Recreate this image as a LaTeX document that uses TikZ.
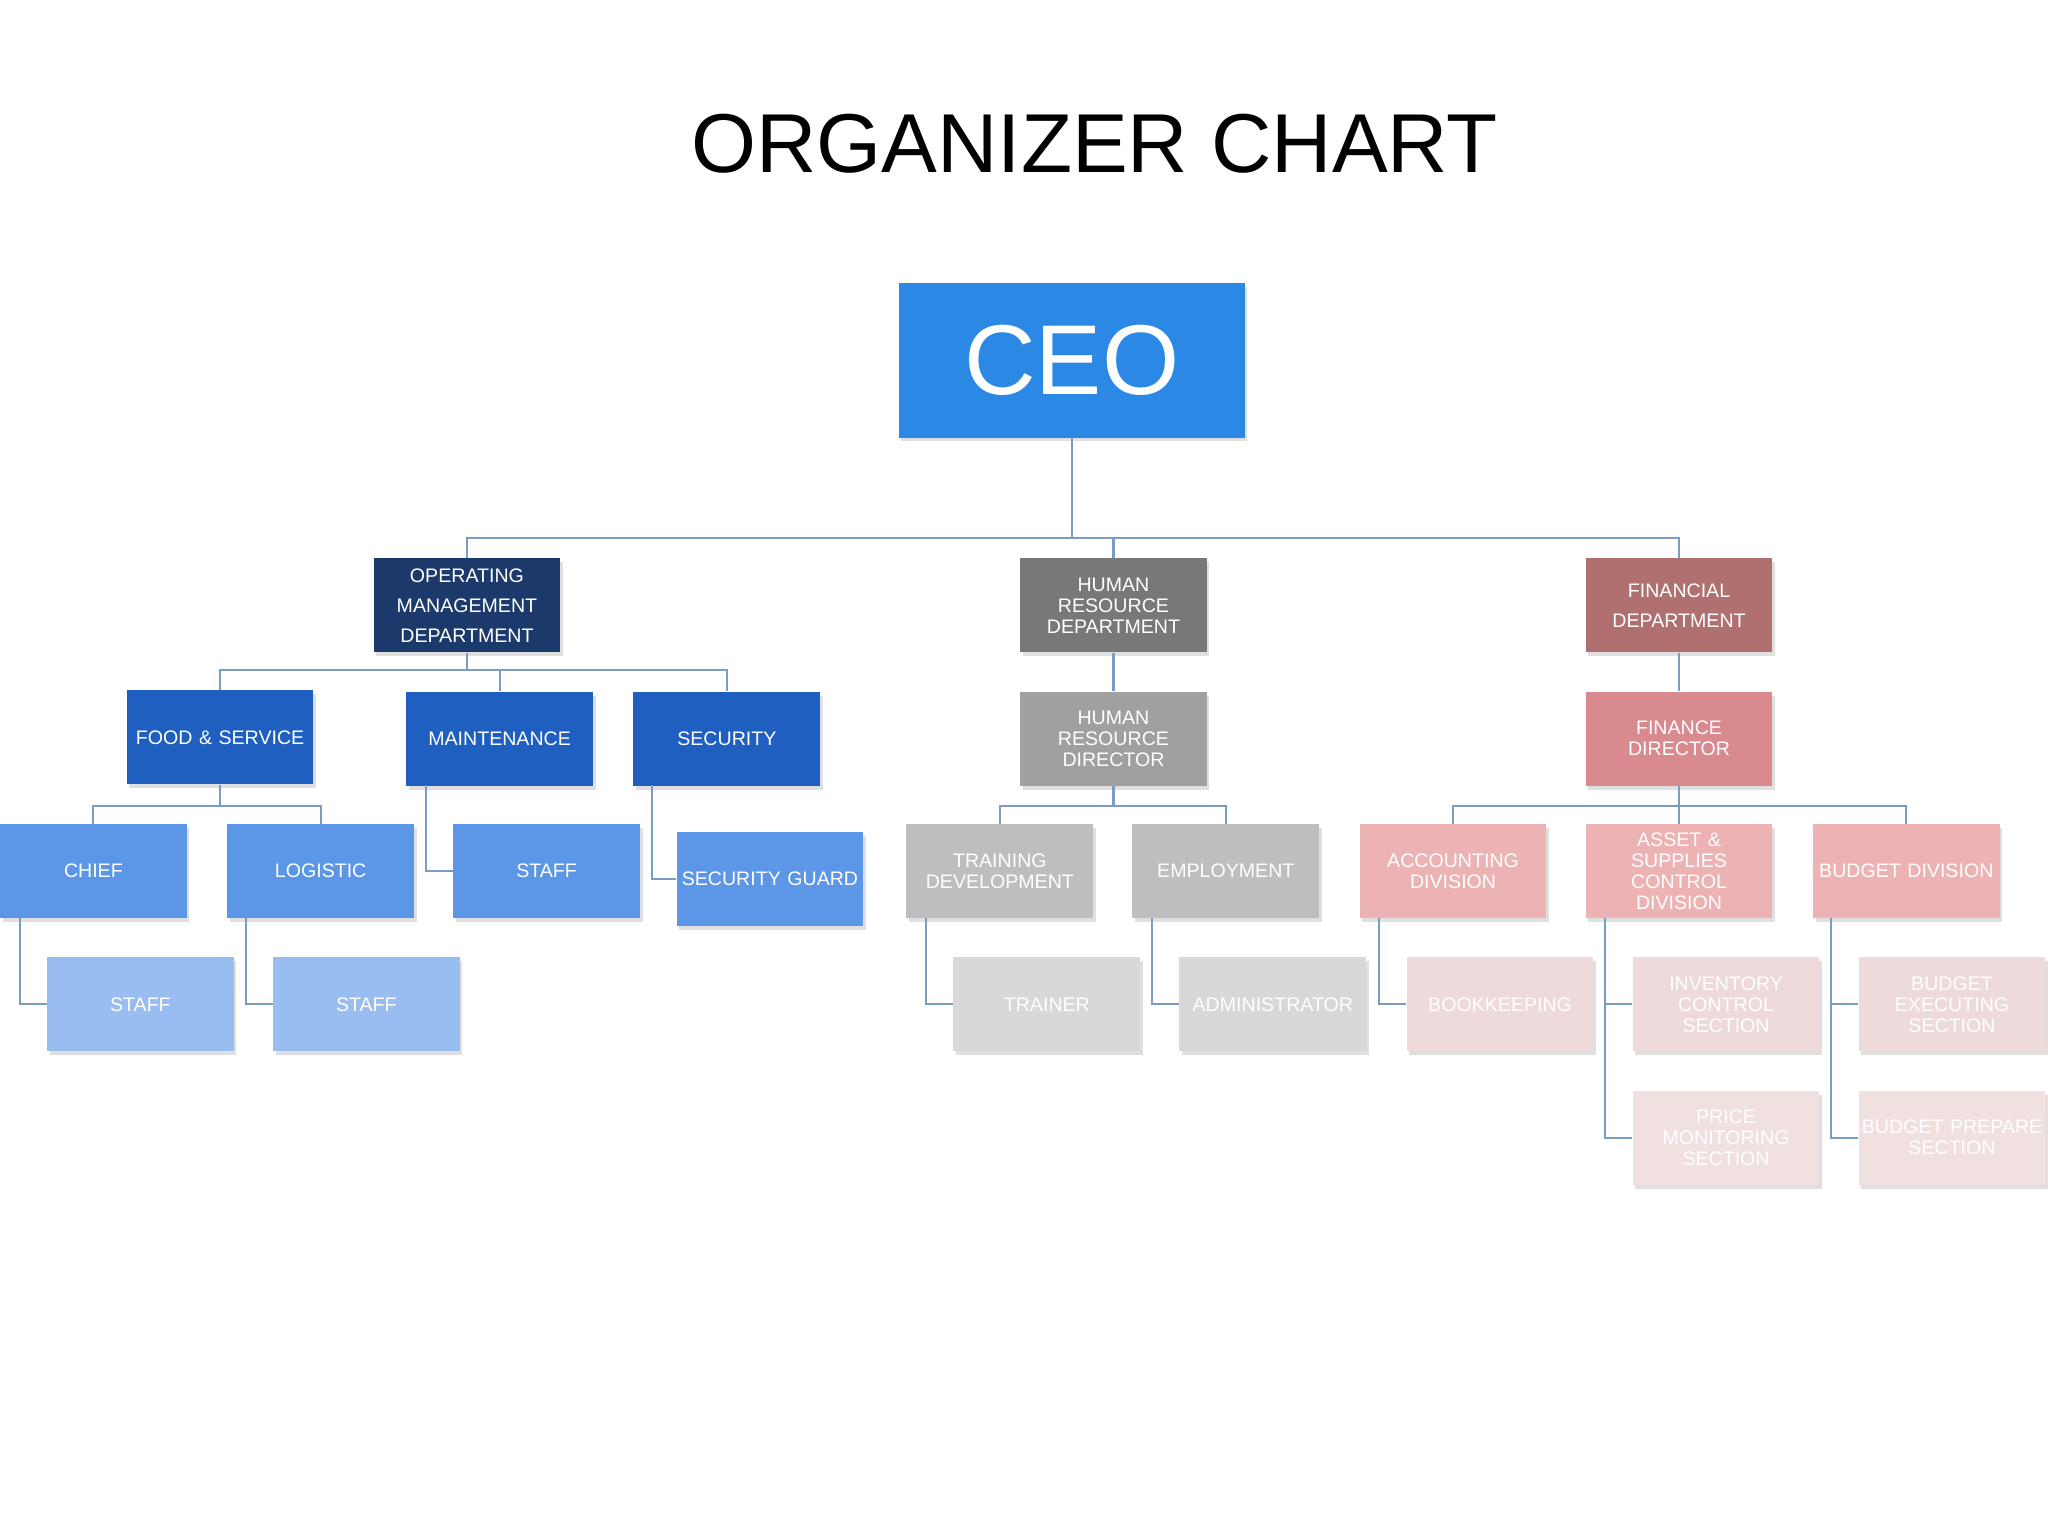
\documentclass[tikz,border=0pt]{standalone}
\usepackage{fontspec}
\setmainfont{Liberation Sans}
\usetikzlibrary{shadows}
\definecolor{ceoc}{RGB}{43,137,229}
\definecolor{navy}{RGB}{27,58,107}
\definecolor{blueA}{RGB}{31,95,192}
\definecolor{blueB}{RGB}{91,151,230}
\definecolor{blueC}{RGB}{152,189,240}
\definecolor{grayA}{RGB}{120,120,120}
\definecolor{grayB}{RGB}{160,160,160}
\definecolor{grayC}{RGB}{190,190,190}
\definecolor{grayD}{RGB}{216,216,216}
\definecolor{redA}{RGB}{176,112,112}
\definecolor{redB}{RGB}{217,138,142}
\definecolor{redC}{RGB}{237,179,180}
\definecolor{redD}{RGB}{238,218,218}
\definecolor{redE}{RGB}{240,224,224}
\definecolor{linec}{RGB}{122,156,192}
\tikzset{
 x=1pt,y=-1pt,
 bx/.style={draw=none,minimum width=143pt,minimum height=72pt,text width=140pt,align=center,text=white,font=\fontsize{15}{16}\selectfont,inner sep=1pt,drop shadow={opacity=0.25,shadow xshift=2pt,shadow yshift=-3pt}},
 ln/.style={draw=linec,line width=1.6pt},
}
\begin{document}
\begin{tikzpicture}
\useasboundingbox (0,0) rectangle (1568,1176);
\fill[white] (0,0) rectangle (1568,1176);
\node (title) at (838,110) {\fontsize{64}{70}\selectfont ORGANIZER CHART};
\node[bx,fill=ceoc,minimum width=265pt,minimum height=118pt,text width=260pt,font=\fontsize{76}{80}\selectfont] (ceo) at (820.5,276) {CEO};
\node[bx,fill=navy,font=\fontsize{15}{23}\selectfont] (omd) at (357.5,463.5) {OPERATING\\MANAGEMENT\\DEPARTMENT};
\node[bx,fill=grayA] (hrd) at (852.5,463.5) {HUMAN\\RESOURCE\\DEPARTMENT};
\node[bx,fill=redA,font=\fontsize{15}{23}\selectfont] (fd) at (1285.5,463.5) {FINANCIAL\\DEPARTMENT};
\node[bx,fill=blueA] (food) at (168.5,564.5) {FOOD \& SERVICE};
\node[bx,fill=blueA] (maint) at (382.5,565.5) {MAINTENANCE};
\node[bx,fill=blueA] (sec) at (556.5,565.5) {SECURITY};
\node[bx,fill=grayB] (hrdir) at (852.5,565.5) {HUMAN\\RESOURCE\\DIRECTOR};
\node[bx,fill=redB] (fdir) at (1285.5,565.5) {FINANCE\\DIRECTOR};
\node[bx,fill=blueB] (chief) at (71.5,667) {CHIEF};
\node[bx,fill=blueB] (logi) at (245.5,667) {LOGISTIC};
\node[bx,fill=blueB] (staff1) at (418.5,667) {STAFF};
\node[bx,fill=blueB] (guard) at (589.5,673) {SECURITY GUARD};
\node[bx,fill=grayC] (train) at (765.5,667) {TRAINING\\DEVELOPMENT};
\node[bx,fill=grayC] (empl) at (938.5,667) {EMPLOYMENT};
\node[bx,fill=redC] (acc) at (1112.5,667) {ACCOUNTING\\DIVISION};
\node[bx,fill=redC] (asset) at (1285.5,667) {ASSET \&\\SUPPLIES\\CONTROL\\DIVISION};
\node[bx,fill=redC] (budget) at (1459.5,667) {BUDGET DIVISION};
\node[bx,fill=blueC] (staff2) at (107.5,769) {STAFF};
\node[bx,fill=blueC] (staff3) at (280.5,769) {STAFF};
\node[bx,fill=grayD] (trainer) at (801.5,769) {TRAINER};
\node[bx,fill=grayD] (admin) at (974.5,769) {ADMINISTRATOR};
\node[bx,fill=redD] (book) at (1148.5,769) {BOOKKEEPING};
\node[bx,fill=redD] (inv) at (1321.5,769) {INVENTORY\\CONTROL\\SECTION};
\node[bx,fill=redD] (bexe) at (1494.5,769) {BUDGET\\EXECUTING\\SECTION};
\node[bx,fill=redE] (price) at (1321.5,871) {PRICE\\MONITORING\\SECTION};
\node[bx,fill=redE] (bprep) at (1494.5,871) {BUDGET PREPARE\\SECTION};
% connectors
\begin{scope}[on background layer/.style={}]
\draw[ln] (ceo.south) -- (820.5,412) coordinate (c1);
\draw[ln] (omd.north) |- (c1) -| (fd.north);
\draw[ln] (hrd.north) -- (852.5,412);
\draw[ln] (omd.south) -- (357.5,513) coordinate (c2);
\draw[ln] (food.north) |- (c2) -| (sec.north);
\draw[ln] (maint.north) -- (382.5,513);
\draw[ln] (hrd.south) -- (hrdir.north);
\draw[ln] (fd.south) -- (fdir.north);
\draw[ln] (food.south) -- (168.5,617) coordinate (c3);
\draw[ln] (chief.north) |- (c3) -| (logi.north);
\draw[ln] (hrdir.south) -- (852.5,617) coordinate (c4);
\draw[ln] (train.north) |- (c4) -| (empl.north);
\draw[ln] (fdir.south) -- (1285.5,617) coordinate (c5);
\draw[ln] (acc.north) |- (c5) -| (budget.north);
\draw[ln] (asset.north) -- (c5);
\draw[ln] (15,703) |- (staff2.west);
\draw[ln] (188,703) |- (staff3.west);
\draw[ln] (326,601) |- (staff1.west);
\draw[ln] (499,601) |- (guard.west);
\draw[ln] (709,703) |- (trainer.west);
\draw[ln] (882,703) |- (admin.west);
\draw[ln] (1056,703) |- (book.west);
\draw[ln] (1229,703) |- (inv.west);
\draw[ln] (1229,769) |- (price.west);
\draw[ln] (1402,703) |- (bexe.west);
\draw[ln] (1402,769) |- (bprep.west);
\end{scope}
\end{tikzpicture}
\end{document}
